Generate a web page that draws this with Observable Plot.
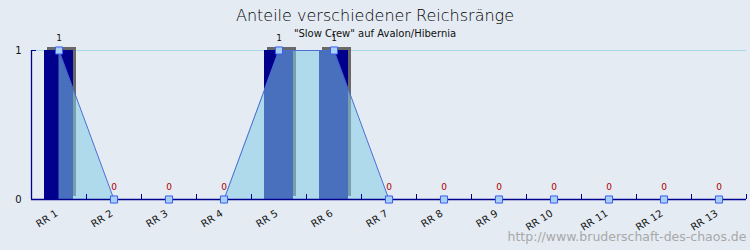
<!DOCTYPE html>
<html>
<head>
<meta charset="utf-8">
<script src="https://cdn.jsdelivr.net/npm/d3@7"></script>
<script src="https://cdn.jsdelivr.net/npm/@observablehq/plot@0.6"></script>
<style>
  html, body { margin: 0; padding: 0; background: #e4ebf3; }
  #chart svg { display: block; }
</style>
</head>
<body>
<div id="chart"></div>
<script>
const categories = ["RR 1","RR 2","RR 3","RR 4","RR 5","RR 6","RR 7","RR 8","RR 9","RR 10","RR 11","RR 12","RR 13"];
const values = [1,0,0,0,1,1,0,0,0,0,0,0,0];
const yTicks = [0, 1];
const title = "Anteile verschiedener Reichsränge";
const subtitle = "\"Slow Crew\" auf Avalon/Hibernia";
const footer = "http://www.bruderschaft-des-chaos.de";

const data = categories.map((c, i) => ({cat: c, idx: i + 1, value: values[i]}));
const n = categories.length;
const xDomain = [0.5, n + 0.5];
const boundaries = d3.range(1, n + 1).map(i => i + 0.5);
const centers = d3.range(1, n + 1);

const navy = "#00008c";
const axisNavy = "#00008f";
const font = "DejaVu Sans, sans-serif";

const chart = Plot.plot({
  width: 750,
  height: 250,
  marginLeft: 31,
  marginRight: 4,
  marginTop: 50,
  marginBottom: 51,
  style: {background: "#e4ebf3", fontFamily: font},
  x: {type: "linear", domain: xDomain},
  y: {domain: [0, 1]},
  marks: [
    Plot.ruleY([1], {stroke: "#a6d8e6", strokeWidth: 1}),
    // bar shadows
    Plot.rectY(data, {x1: d => d.idx - 0.5, x2: d => d.idx + 0.5, y1: 0, y2: "value", insetLeft: 13, insetRight: 13, dx: 3, dy: -3, fill: "#696969"}),
    // bars
    Plot.rectY(data, {x1: d => d.idx - 0.5, x2: d => d.idx + 0.5, y1: 0, y2: "value", insetLeft: 13, insetRight: 13, fill: navy}),
    // area
    Plot.areaY(data, {x: "idx", y: "value", fill: "#84cce4", fillOpacity: 0.55}),
    Plot.lineY(data, {x: "idx", y: "value", stroke: "#4a6cd4", strokeWidth: 1}),
    // axes lines
    Plot.ruleY([0], {stroke: axisNavy, strokeWidth: 1.3}),
    Plot.ruleX([xDomain[0]], {y1: 0, y2: 1, stroke: axisNavy, strokeWidth: 1.3}),
    Plot.axisY({ticks: [1], tickSize: -5, tickFormat: () => "", stroke: axisNavy, label: null}),
    Plot.axisY({ticks: yTicks, tickSize: 0, tickPadding: 10, tickFormat: "d", fontSize: 10, fill: "#111", label: null}),
    Plot.axisX({ticks: boundaries, tickSize: -5, tickFormat: () => "", stroke: axisNavy, label: null}),
    Plot.axisX({ticks: centers, tickFormat: i => categories[i - 1], tickSize: 0, tickPadding: 13, dx: -2, tickRotate: -32, fontSize: 10, fill: "#111", label: null}),
    // points
    Plot.dot(data, {x: "idx", y: "value", symbol: "square", r: 4, fill: "#a8d0f4", stroke: "#3a5cf0", strokeWidth: 1}),
    // value labels
    Plot.text(data, {x: "idx", y: "value", text: d => String(d.value), dy: -12, fontSize: 9, fill: d => d.value > 0 ? "#111" : "#b00000"}),
    // titles
    Plot.text([title], {frameAnchor: "top", dx: -14, dy: -41, fontSize: 16, fontWeight: 300, fill: "#000"}),
    Plot.text([subtitle], {frameAnchor: "top", dx: -14, dy: -21, fontSize: 10, fill: "#111"}),
    Plot.text([footer], {frameAnchor: "bottom-right", textAnchor: "end", dy: 41, fontSize: 12.5, fill: "#a8a8a8"})
  ]
});
document.getElementById("chart").appendChild(chart);
</script>
</body>
</html>
